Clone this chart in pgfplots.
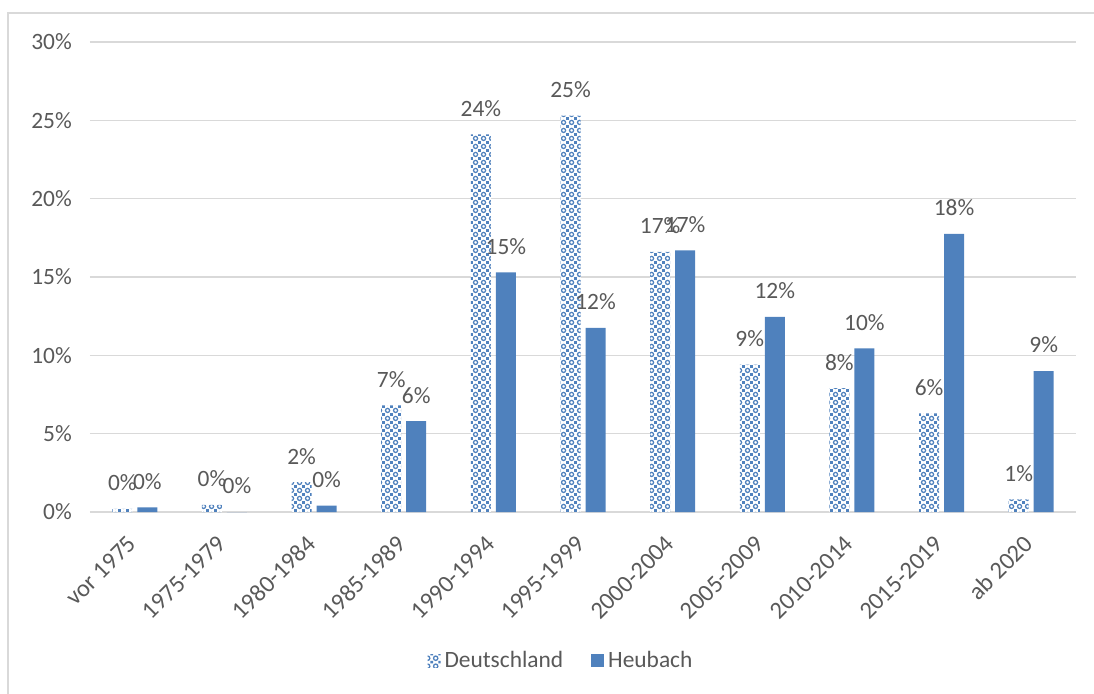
\documentclass[border=0pt]{standalone}
\usepackage{pgfplots}
\pgfplotsset{compat=1.18}
\usepackage{fontspec}
\setmainfont{Carlito}
\usetikzlibrary{patterns.meta}
\definecolor{heu}{RGB}{79,129,189}
\definecolor{txt}{RGB}{89,89,89}
\definecolor{gridc}{RGB}{217,217,217}
\pgfdeclarepattern{
  name=xldiamond,
  type=uncolored,
  bottom left={\pgfpoint{0pt}{0pt}},
  top right={\pgfpoint{4pt}{4pt}},
  tile size={\pgfpoint{4pt}{4pt}},
  code={
    \pgfsetlinewidth{0.7pt}
    \pgfpathcircle{\pgfpoint{2pt}{2pt}}{1.15pt}
    \pgfusepath{stroke}
    \pgfpathrectangle{\pgfpoint{-0.55pt}{-0.55pt}}{\pgfpoint{1.1pt}{1.1pt}}
    \pgfpathrectangle{\pgfpoint{3.45pt}{-0.55pt}}{\pgfpoint{1.1pt}{1.1pt}}
    \pgfpathrectangle{\pgfpoint{-0.55pt}{3.45pt}}{\pgfpoint{1.1pt}{1.1pt}}
    \pgfpathrectangle{\pgfpoint{3.45pt}{3.45pt}}{\pgfpoint{1.1pt}{1.1pt}}
    \pgfusepath{fill}
  }
}
\begin{document}
\fontsize{11.7}{14}\selectfont
\begin{tikzpicture}
\useasboundingbox (-45pt,-90.5pt) rectangle (502pt,256pt);
\draw[gridc, line width=0.8pt] (-41pt,-100pt) rectangle (510pt,249.5pt);
\begin{axis}[
  at={(0,0)}, anchor=south west,
  scale only axis, width=493pt, height=235pt,
  xmin=-0.5, xmax=10.5, ymin=0, ymax=30,
  ybar=2.5pt, bar width=10pt,
  xtick={0,...,10},
  xticklabels={vor 1975,1975-1979,1980-1984,1985-1989,1990-1994,1995-1999,2000-2004,2005-2009,2010-2014,2015-2019,ab 2020},
  x tick label style={xshift=1.5pt, yshift=-11pt, rotate=45, anchor=east, font=\fontsize{12.2}{14}\selectfont, text=txt},
  ytick={0,5,...,30},
  yticklabel={\pgfmathprintnumber{\tick}\%},
  y tick label style={font=\fontsize{11.7}{14}\selectfont, text=txt, xshift=-5pt},
  /pgf/number format/assume math mode=true,
  major tick length=0pt,
  axis line style={draw=none},
  ymajorgrids, grid style={gridc, line width=0.8pt},
  nodes near coords={\pgfmathprintnumber[fixed,precision=0]{\pgfplotspointmeta}\%},
  every node near coord/.append style={anchor=center, yshift=13pt, font=\fontsize{11.7}{14}\selectfont, text=txt},
  legend columns=2,
  legend style={at={(0.4787,-0.317)}, anchor=center, draw=none, font=\fontsize{11.7}{14}\selectfont, text=txt, /tikz/every even column/.append style={column sep=12pt}},
  legend image code/.code={\path[#1] (0pt,-3.25pt) rectangle (6.5pt,3.25pt);},
]
\addplot[draw=none, fill=white, postaction={pattern={xldiamond}, pattern color=heu}] coordinates {
(0,0.2) (1,0.45) (2,1.9) (3,6.8) (4,24.1) (5,25.3) (6,16.6) (7,9.4) (8,7.9) (9,6.3) (10,0.8)};
\addlegendentry{Deutschland}
\addplot[draw=none, fill=heu] coordinates {
(0,0.3) (1,0) (2,0.4) (3,5.8) (4,15.3) (5,11.75) (6,16.7) (7,12.45) (8,10.45) (9,17.75) (10,9.0)};
\addlegendentry{Heubach}
\end{axis}
\end{tikzpicture}
\end{document}
